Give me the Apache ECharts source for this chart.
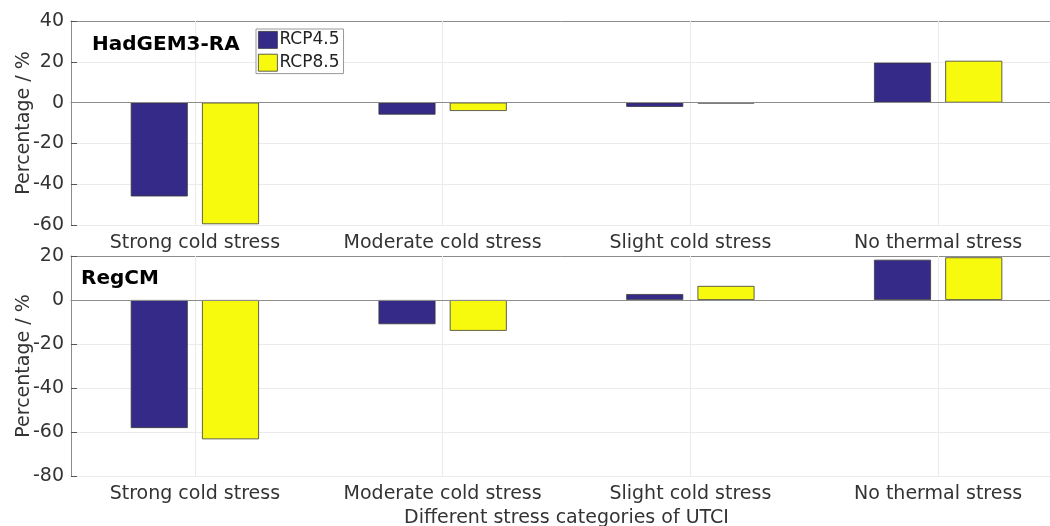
<!DOCTYPE html>
<html><head><meta charset="utf-8">
<script src="https://cdn.jsdelivr.net/npm/echarts@6/dist/echarts.min.js"></script>
<style>html,body{margin:0;padding:0;background:#fff}#c{width:1050px;height:526px}</style>
</head><body><div id="c"></div>
<script>
const categories = ['Strong cold stress','Moderate cold stress','Slight cold stress','No thermal stress'];
const hadRCP45 = [-46, -5.9, -2.1, 19.6];
const hadRCP85 = [-59.6, -4.1, -0.4, 20.5];
const regRCP45 = [-58.2, -11, 2.7, 18.3];
const regRCP85 = [-63.3, -14, 6.4, 19.4];
const topTicks = {min:-60, max:40, interval:20};
const botTicks = {min:-80, max:20, interval:20};
const panelTitles = ['HadGEM3-RA','RegCM'];
const seriesNames = ['RCP4.5','RCP8.5'];

const FONT = 'DejaVu Sans';
const TXT = '#333';
const AX = '#8c8c8c';
const GRIDC = '#ebebeb';
const BLUE = '#352a87', YEL = '#f8fa0d';

const chart = echarts.init(document.getElementById('c'), null, {renderer:'canvas'});
function xAx(gi){
  return {type:'category', gridIndex:gi, data:categories, boundaryGap:true,
    axisLine:{lineStyle:{color:AX,width:1.2}},
    axisTick:{alignWithLabel:true, inside:true, length:6, lineStyle:{color:'#555'}},
    axisLabel:{fontFamily:FONT, fontSize:19, color:TXT, margin:9, interval:0, hideOverlap:false},
    splitLine:{show:false},
    name: gi===1 ? 'Different stress categories of UTCI' : '',
    nameLocation:'middle', nameGap:33, nameMoveOverlap:false,
    nameTextStyle:{fontFamily:FONT, fontSize:19, color:TXT}};
}
function xTop(gi){
  return {type:'category', gridIndex:gi, data:categories, position:'top', boundaryGap:true,
    axisLine:{lineStyle:{color:AX,width:1}},
    axisTick:{alignWithLabel:true, inside:true, length:6, lineStyle:{color:'#555'}},
    axisLabel:{show:false}, splitLine:{show:false}};
}
function yAx(gi, t){
  return {type:'value', gridIndex:gi, min:t.min, max:t.max, interval:t.interval,
    axisLine:{show:true, lineStyle:{color:AX,width:1}},
    axisTick:{show:true, inside:true, length:6, lineStyle:{color:'#555'}},
    axisLabel:{fontFamily:FONT, fontSize:19, color:TXT, margin:7},
    splitLine:{show:true, lineStyle:{color:GRIDC,width:1}},
    name:'Percentage / %', nameLocation:'middle', nameGap:37, nameMoveOverlap:false,
    nameTextStyle:{fontFamily:FONT, fontSize:19, color:TXT}};
}
function bar(name, data, gi, color){
  return {name, type:'bar', xAxisIndex:gi*2, yAxisIndex:gi, data,
    barWidth:57, barGap:'25%', z:3,
    itemStyle:{color, borderColor:'#3a3a3a', borderWidth:0.8}};
}
function gridLines(gi){
  return {type:'line', xAxisIndex:gi*2, yAxisIndex:gi, data:[], silent:true, z:1,
    markLine:{silent:true, symbol:'none', label:{show:false}, animation:false,
      data: categories.map(c=>({xAxis:c, lineStyle:{color:GRIDC,width:1,type:'solid'}}))}};
}
function baseLine(gi){
  return {type:'line', xAxisIndex:gi*2, yAxisIndex:gi, data:[], silent:true, z:4,
    markLine:{silent:true, symbol:'none', label:{show:false}, animation:false,
      data:[{yAxis:0, lineStyle:{color:AX,width:1.2,type:'solid'}}]}};
}
chart.setOption({
  animation:false,
  backgroundColor:'#fff',
  textStyle:{fontFamily:FONT},
  grid:[
    {left:71, top:21, right:-12, height:204, outerBoundsMode:'none', containLabel:false},
    {left:71, top:256, right:-12, height:220, outerBoundsMode:'none', containLabel:false}
  ],
  xAxis:[xAx(0), xTop(0), xAx(1), xTop(1)],
  yAxis:[yAx(0, topTicks), yAx(1, botTicks)],
  legend:{data:seriesNames, orient:'vertical', left:256, top:29, itemWidth:19, itemHeight:17, itemGap:5,
    padding:[2,4,2,2], borderColor:'#999', borderWidth:1, backgroundColor:'#fff',
    icon:'rect', textStyle:{fontFamily:FONT, fontSize:17, color:'#222', padding:[0,0,0,-3]},
    itemStyle:{borderColor:'#3a3a3a', borderWidth:0.8}},
  title:[
    {text:panelTitles[0], left:87, top:30, textStyle:{fontFamily:FONT, fontSize:20, fontWeight:'bold', color:'#000'}},
    {text:panelTitles[1], left:76, top:264, textStyle:{fontFamily:FONT, fontSize:20, fontWeight:'bold', color:'#000'}}
  ],
  series:[
    gridLines(0), gridLines(1),
    bar(seriesNames[0], hadRCP45, 0, BLUE),
    bar(seriesNames[1], hadRCP85, 0, YEL),
    bar(seriesNames[0], regRCP45, 1, BLUE),
    bar(seriesNames[1], regRCP85, 1, YEL),
    baseLine(0), baseLine(1)
  ]
});
</script></body></html>
